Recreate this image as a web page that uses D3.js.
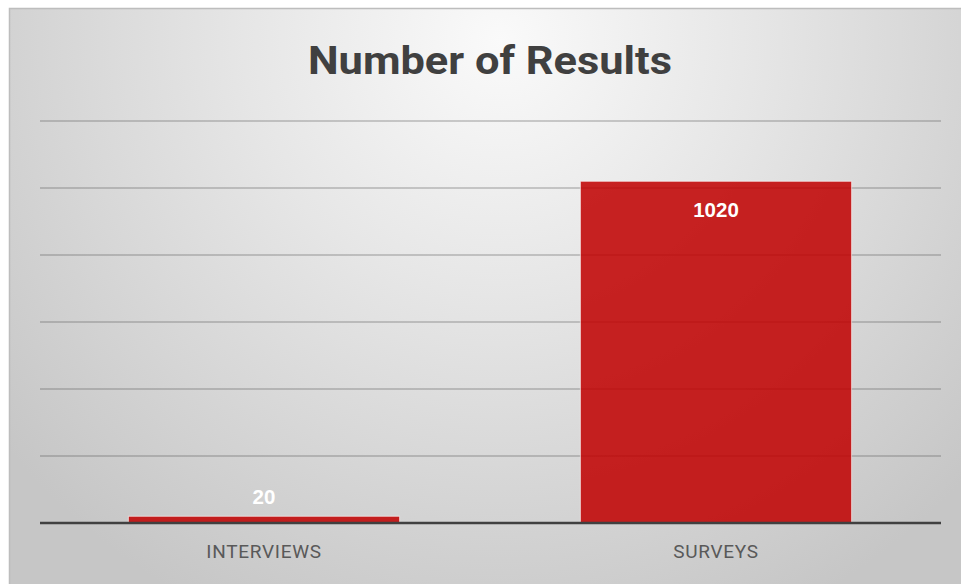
<!DOCTYPE html>
<html>
<head>
<meta charset="utf-8">
<script src="https://cdn.jsdelivr.net/npm/d3@7"></script>
<style>
html,body{margin:0;padding:0;background:#fff;overflow:hidden;}
svg{display:block;}
</style>
</head>
<body>
<svg id="chart" width="961" height="584"></svg>
<script>
const categories = ["INTERVIEWS", "SURVEYS"];
const values = [20, 1020];
const yTicks = [0, 200, 400, 600, 800, 1000, 1200];
const title = "Number of Results";

const svg = d3.select("#chart");
const W = 961, H = 584;
const defs = svg.append("defs");
const grad = defs.append("radialGradient")
  .attr("id", "bg").attr("gradientUnits", "userSpaceOnUse")
  .attr("cx", 500).attr("cy", 40).attr("r", 640)
  .attr("fx", 500).attr("fy", 40);
grad.append("stop").attr("offset", "0%").attr("stop-color", "#fafafa");
grad.append("stop").attr("offset", "40%").attr("stop-color", "#e6e6e6");
grad.append("stop").attr("offset", "100%").attr("stop-color", "#c6c6c6");

// chart frame
svg.append("rect").attr("x", 9.5).attr("y", 8.5).attr("width", W).attr("height", H)
  .attr("fill", "url(#bg)").attr("stroke", "#bdbdbd").attr("stroke-width", 1.5);

const x = d3.scaleBand().domain(categories).range([38, 942]).paddingInner(0.4).paddingOuter(0.2);
const y = d3.scaleLinear().domain([0, 1200]).range([523, 121]);

// gridlines
svg.append("g").selectAll("line").data(yTicks.filter(d => d > 0)).join("line")
  .attr("x1", 40).attr("x2", 941)
  .attr("y1", d => y(d)).attr("y2", d => y(d))
  .attr("stroke", "rgba(90,90,90,0.38)").attr("stroke-width", 1.3);

// bars
svg.append("g").selectAll("rect").data(values).join("rect")
  .attr("x", (d, i) => x(categories[i]))
  .attr("width", x.bandwidth())
  .attr("y", d => y(d))
  .attr("height", d => y(0) - y(d))
  .attr("fill", "#c00000").attr("fill-opacity", 0.86)
  .attr("stroke", "rgba(255,255,255,0.6)").attr("stroke-width", 1);

// baseline axis
const xAxis = d3.axisBottom(x).tickSize(0).tickPadding(22);
const ax = svg.append("g").attr("transform", `translate(0,${y(0)})`).call(xAxis);
ax.select(".domain").attr("d", "M40,0H941").attr("stroke", "#404040").attr("stroke-width", 2.6);
ax.selectAll("text")
  .attr("font-family", "Roboto, 'Liberation Sans', sans-serif")
  .attr("font-size", 19).attr("letter-spacing", 0.7).attr("fill", "#595959");

// value labels
svg.append("g").selectAll("text").data(values).join("text")
  .attr("x", (d, i) => x(categories[i]) + x.bandwidth() / 2)
  .attr("y", d => d > 200 ? y(d) + 36 : y(d) - 12)
  .attr("text-anchor", "middle")
  .attr("font-family", "'Liberation Sans', Arial, sans-serif")
  .attr("font-weight", "bold").attr("font-size", 20.5).attr("fill", "#ffffff")
  .text(d => d);

// title
svg.append("text").attr("x", 490).attr("y", 74).attr("text-anchor", "middle")
  .attr("font-family", "Roboto, 'Open Sans', sans-serif").attr("font-weight", "bold")
  .attr("font-size", 39).attr("fill", "#404040")
  .attr("textLength", 364).attr("lengthAdjust", "spacingAndGlyphs")
  .text(title);
</script>
</body>
</html>
